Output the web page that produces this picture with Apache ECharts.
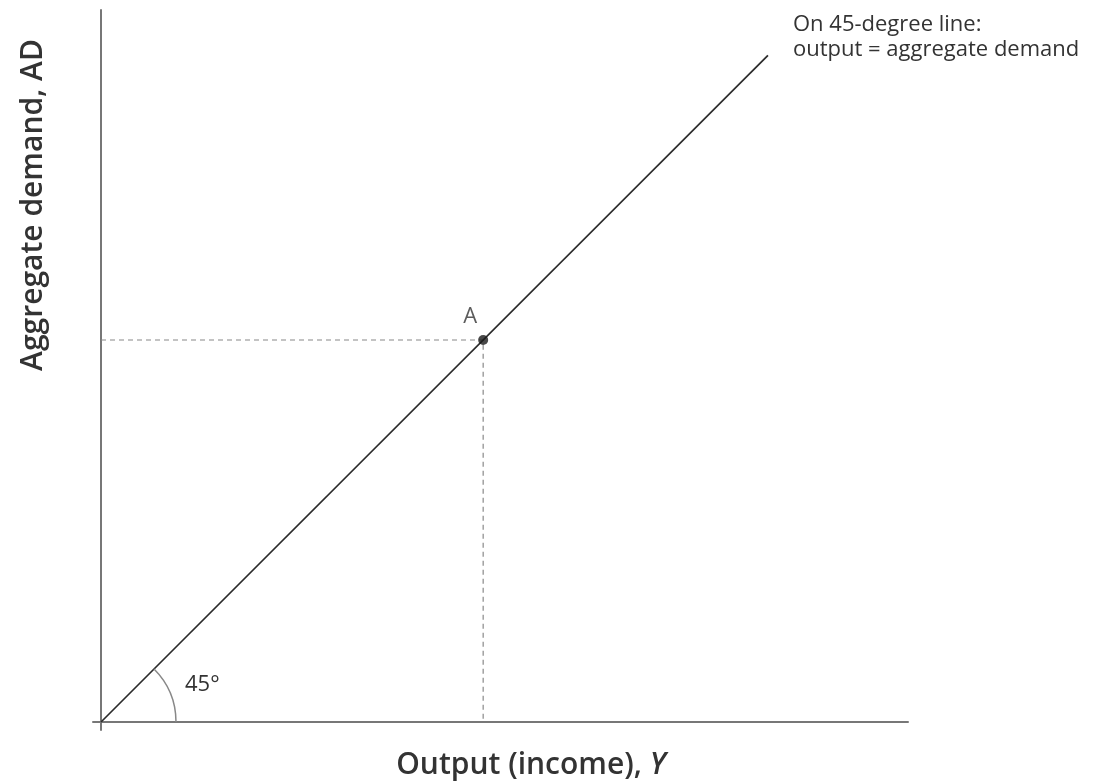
<!DOCTYPE html>
<html><head><meta charset="utf-8">
<script src="https://cdn.jsdelivr.net/npm/echarts@6/dist/echarts.min.js"></script>
<style>html,body{margin:0;padding:0;background:#fff}#c{width:1103px;height:783px}</style>
</head><body><div id="c"></div>
<script>
// 45-degree line: output = aggregate demand
var lineXY = [[0, 0], [10, 10]];
var pointA = [5.73, 5.73];
var pointLabel = 'A';
var xTitle = 'Output (income), ';
var xTitleVar = 'Y';
var yTitle = 'Aggregate demand, AD';
var noteLines = ['On 45-degree line:', 'output = aggregate demand'];
var angleLabel = '45°';

var FONT = '"Open Sans", "Noto Sans", sans-serif';
var chart = echarts.init(document.getElementById('c'));
var option = {
  animation: false,
  backgroundColor: '#fff',
  grid: { left: 93, top: 10, right: 195, bottom: 53 },
  xAxis: {
    type: 'value', min: -0.12, max: 12.1,
    axisLine: { onZero: true, lineStyle: { color: '#777', width: 2 } },
    axisTick: { show: false }, axisLabel: { show: false }, splitLine: { show: false }
  },
  yAxis: {
    type: 'value', min: -0.12, max: 10.68,
    axisLine: { onZero: true, lineStyle: { color: '#777', width: 2 } },
    axisTick: { show: false }, axisLabel: { show: false }, splitLine: { show: false }
  },
  series: [
    {
      type: 'line', data: [[0, pointA[1]], pointA, [pointA[0], 0]],
      symbol: 'none', lineStyle: { color: '#888', width: 1.2, type: [5, 4] }, z: 1
    },
    {
      type: 'line', data: lineXY, symbol: 'none',
      lineStyle: { color: '#2b2b2b', width: 1.7 }, z: 2
    },
    {
      type: 'scatter', data: [pointA], symbolSize: 10, itemStyle: { color: '#1a1a1a' }, z: 3,
      label: { show: true, formatter: pointLabel, position: 'top', offset: [-13, -2],
        color: '#333', fontSize: 22, fontFamily: FONT }
    }
  ]
};
chart.setOption(option);

var o = chart.convertToPixel({ gridIndex: 0 }, [0, 0]);
chart.setOption({
  graphic: [
    { type: 'arc', shape: { cx: o[0], cy: o[1], r: 75, startAngle: -Math.PI / 4, endAngle: 0, clockwise: true },
      style: { stroke: '#888', lineWidth: 1.5, fill: null }, z: 5 },
    { type: 'text', x: 185, y: 685, style: { text: angleLabel, fill: '#333', font: '22px ' + FONT, verticalAlign: 'middle' } },
    { type: 'text', x: 793, y: 12, style: { text: noteLines.join('\n'), fill: '#333', font: '22px ' + FONT, lineHeight: 25 } },
    { type: 'text', x: 531, y: 765, style: {
        text: '{a|' + xTitle + '}{b|' + xTitleVar + '}', align: 'center', verticalAlign: 'middle',
        rich: { a: { fontSize: 30, fontWeight: 600, fontFamily: FONT, fill: '#333', color: '#333' },
                b: { fontSize: 30, fontWeight: 600, fontStyle: 'italic', fontFamily: FONT, fill: '#333', color: '#333' } } } },
    { type: 'text', x: 33, y: 205, rotation: Math.PI / 2, style: {
        text: yTitle, fill: '#333', font: '600 30px ' + FONT, align: 'center', verticalAlign: 'middle' } }
  ]
});
</script></body></html>
